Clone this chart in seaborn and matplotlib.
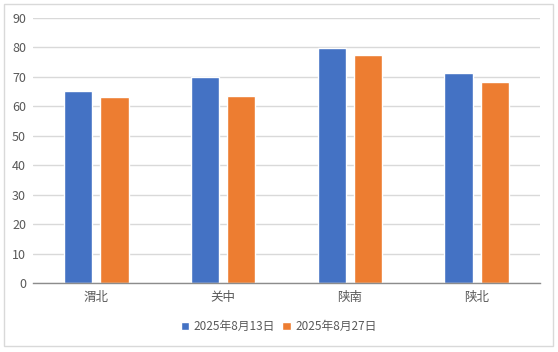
import pandas as pd
import matplotlib.pyplot as plt
import seaborn as sns
from matplotlib.patches import Rectangle

# Data
regions = ['渭北', '关中', '陕南', '陕北']
series_names = ['2025年8月13日', '2025年8月27日']
values_0813 = [65.2, 69.8, 79.8, 71.3]
values_0827 = [63.2, 63.5, 77.4, 68.3]
colors = ['#4472C4', '#ED7D31']

df = pd.DataFrame({
    '地区': regions * 2,
    '日期': [series_names[0]] * 4 + [series_names[1]] * 4,
    '值': values_0813 + values_0827,
})

sns.set_style('white')
plt.rcParams['font.family'] = ['Noto Sans CJK SC', 'DejaVu Sans']

fig = plt.figure(figsize=(5.58, 3.52), dpi=100)
ax = fig.add_axes([33 / 558, 1 - 283 / 352, 507 / 558, 265 / 352])

sns.barplot(data=df, x='地区', y='值', hue='日期', palette=colors,
            width=0.57, gap=0.22, ax=ax, saturation=1, legend=True)

ax.set_ylim(0, 90)
ax.set_xlim(-0.5, 3.5)
ax.set_yticks(range(0, 91, 10))
ax.yaxis.grid(True, color='#D9D9D9', linewidth=1)
ax.set_axisbelow(True)
for s in ['top', 'right', 'left']:
    ax.spines[s].set_visible(False)
ax.spines['bottom'].set_color('#8C8C8C')
ax.spines['bottom'].set_linewidth(1)
ax.tick_params(axis='both', length=0, labelsize=9, colors='#595959')
ax.tick_params(axis='y', pad=5)
ax.tick_params(axis='x', pad=6)
ax.set_xlabel('')
ax.set_ylabel('')

leg = ax.legend(loc='lower center', bbox_to_anchor=(0.485, -0.23), ncol=2,
                frameon=False, fontsize=8.5, handlelength=0.7, handleheight=0.7,
                handletextpad=0.4, columnspacing=0.6)
for t in leg.get_texts():
    t.set_color('#595959')

# outer chart border
fig.patches.append(Rectangle((4 / 558, 1 - 346 / 352), 549 / 558, 342 / 352,
                             transform=fig.transFigure, fill=False,
                             edgecolor='#D9D9D9', linewidth=1))

fig.savefig('out.png', dpi=100)
